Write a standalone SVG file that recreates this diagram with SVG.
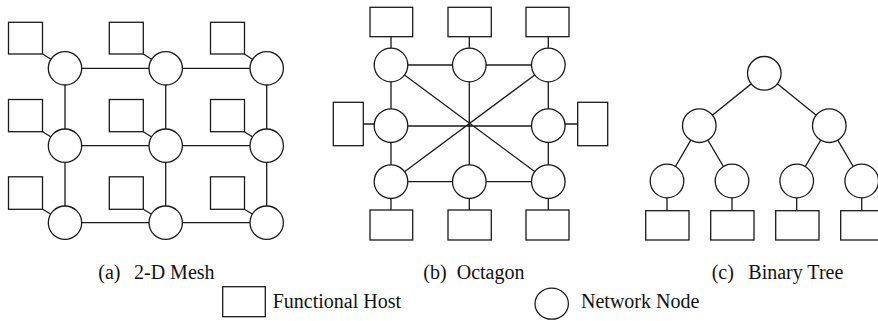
<svg xmlns="http://www.w3.org/2000/svg" width="878" height="321" viewBox="0 0 878 321">
  <style>
    .edge { stroke: #1a1a1a; stroke-width: 1.3; fill: none; }
    .host { fill: #fff; stroke: #1a1a1a; stroke-width: 1.3; }
    .node { fill: #fff; stroke: #1a1a1a; stroke-width: 1.3; }
    .label { font-family: 'Liberation Serif', 'Times New Roman', Times, serif; font-size: 20px; fill: #111; }
  </style>
  <rect width="878" height="321" fill="#fff"/>

  <!-- (a) 2-D Mesh -->
  <g id="mesh-edges">
    <path class="edge" d="M65,68.3H266.7M65,145.7H266.7M65,222.7H266.7M65,68.3V222.7M165.7,68.3V222.7M266.7,68.3V222.7"/>
    <path class="edge" d="M42.7,54L65,68.3M143.3,54L165.7,68.3M244.3,54L266.7,68.3M42.7,131.7L65,145.7M143.3,131.7L165.7,145.7M244.3,131.7L266.7,145.7M42.7,209.3L65,222.7M143.3,209.3L165.7,222.7M244.3,209.3L266.7,222.7"/>
  </g>
  <g id="mesh-hosts">
    <rect id="mh11" class="host" x="8.5" y="22.3" width="34" height="31.7"/>
    <rect id="mh12" class="host" x="109.3" y="22.3" width="34" height="31.7"/>
    <rect id="mh13" class="host" x="210.5" y="22.3" width="34" height="31.7"/>
    <rect id="mh21" class="host" x="8.5" y="99.5" width="34" height="32.2"/>
    <rect id="mh22" class="host" x="109.3" y="99.5" width="34" height="32.2"/>
    <rect id="mh23" class="host" x="210.5" y="99.5" width="34" height="32.2"/>
    <rect id="mh31" class="host" x="8.5" y="176.8" width="34" height="32.5"/>
    <rect id="mh32" class="host" x="109.3" y="176.8" width="34" height="32.5"/>
    <rect id="mh33" class="host" x="210.5" y="176.8" width="34" height="32.5"/>
  </g>
  <g id="mesh-nodes">
    <circle id="mn11" class="node" cx="65" cy="68.3" r="16.7"/>
    <circle id="mn12" class="node" cx="165.7" cy="68.3" r="16.7"/>
    <circle id="mn13" class="node" cx="266.7" cy="68.3" r="16.7"/>
    <circle id="mn21" class="node" cx="65" cy="145.7" r="16.7"/>
    <circle id="mn22" class="node" cx="165.7" cy="145.7" r="16.7"/>
    <circle id="mn23" class="node" cx="266.7" cy="145.7" r="16.7"/>
    <circle id="mn31" class="node" cx="65" cy="222.7" r="16.7"/>
    <circle id="mn32" class="node" cx="165.7" cy="222.7" r="16.7"/>
    <circle id="mn33" class="node" cx="266.7" cy="222.7" r="16.7"/>
  </g>

  <!-- (b) Octagon -->
  <g id="octagon-edges">
    <path class="edge" d="M391,65H548.3V181.7H391Z"/>
    <path class="edge" d="M391,65L548.3,181.7M548.3,65L391,181.7M469.3,65V181.7M391,126H548.3"/>
    <path class="edge" d="M391,36.7V65M469.3,36.7V65M548.3,36.7V65M391,181.7V210M469.3,181.7V210M548.3,181.7V210M363.3,124H391M548.3,124H577.7"/>
  </g>
  <g id="octagon-hosts">
    <rect id="oh1" class="host" x="370" y="7.3" width="42.7" height="29.4"/>
    <rect id="oh2" class="host" x="448" y="7.3" width="43.3" height="29.4"/>
    <rect id="oh3" class="host" x="526" y="7.3" width="43" height="29.4"/>
    <rect id="oh4" class="host" x="333.3" y="102.3" width="30" height="43.4"/>
    <rect id="oh5" class="host" x="577.7" y="102.3" width="30" height="43.4"/>
    <rect id="oh6" class="host" x="370" y="210" width="42.7" height="30"/>
    <rect id="oh7" class="host" x="448" y="210" width="43.3" height="30"/>
    <rect id="oh8" class="host" x="526" y="210" width="43" height="30"/>
  </g>
  <g id="octagon-nodes">
    <circle id="on1" class="node" cx="391" cy="65" r="16.8"/>
    <circle id="on2" class="node" cx="469.3" cy="65" r="16.8"/>
    <circle id="on3" class="node" cx="548.3" cy="65" r="16.8"/>
    <circle id="on4" class="node" cx="391" cy="125.7" r="16.8"/>
    <circle id="on5" class="node" cx="548.3" cy="125.7" r="16.8"/>
    <circle id="on6" class="node" cx="391" cy="181.7" r="16.8"/>
    <circle id="on7" class="node" cx="469.3" cy="181.7" r="16.8"/>
    <circle id="on8" class="node" cx="548.3" cy="181.7" r="16.8"/>
  </g>

  <!-- (c) Binary Tree -->
  <g id="tree-edges">
    <path class="edge" d="M764.3,73.3L699.3,125.7M764.3,73.3L829.3,125.7M699.3,125.7L667,181M699.3,125.7L732,181M829.3,125.7L796.7,181M829.3,125.7L861.7,181"/>
    <path class="edge" d="M667,181V211M732,181V211M796.7,181V211M861.7,181V211"/>
  </g>
  <g id="tree-hosts">
    <rect id="th1" class="host" x="645.7" y="210.7" width="43.3" height="29.3"/>
    <rect id="th2" class="host" x="710.7" y="210.7" width="43.3" height="29.3"/>
    <rect id="th3" class="host" x="775.7" y="210.7" width="43.3" height="29.3"/>
    <rect id="th4" class="host" x="840.7" y="210.7" width="43.3" height="29.3"/>
  </g>
  <g id="tree-nodes">
    <circle id="tn1" class="node" cx="764.3" cy="73.3" r="16.8"/>
    <circle id="tn2" class="node" cx="699.3" cy="125.7" r="16.8"/>
    <circle id="tn3" class="node" cx="829.3" cy="125.7" r="16.8"/>
    <circle id="tn4" class="node" cx="667" cy="181" r="16.8"/>
    <circle id="tn5" class="node" cx="732" cy="181" r="16.8"/>
    <circle id="tn6" class="node" cx="796.7" cy="181" r="16.8"/>
    <circle id="tn7" class="node" cx="861.7" cy="181" r="16.8"/>
  </g>

  <!-- captions -->
  <g id="captions" font-family="Liberation Serif, serif">
    <text class="label" x="98.3" y="279">(a)</text>
    <text class="label" x="134" y="279">2-D Mesh</text>
    <text class="label" x="423.3" y="279">(b)</text>
    <text class="label" x="456.7" y="279">Octagon</text>
    <text class="label" x="711.7" y="279">(c)</text>
    <text class="label" x="748.3" y="279">Binary Tree</text>
  </g>

  <!-- legend -->
  <g id="legend-host">
    <rect class="host" x="222.7" y="286.7" width="42.6" height="30"/>
    <text class="label" x="272.7" y="308">Functional Host</text>
  </g>
  <g id="legend-node">
    <ellipse class="node" cx="551.7" cy="303.7" rx="16.7" ry="15.5"/>
    <text class="label" x="581" y="308">Network Node</text>
  </g>
</svg>
